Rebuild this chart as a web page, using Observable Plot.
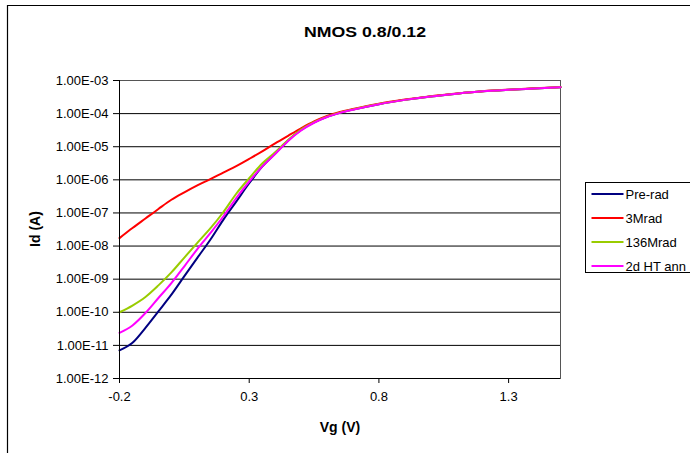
<!DOCTYPE html>
<html>
<head>
<meta charset="utf-8">
<script src="https://cdn.jsdelivr.net/npm/d3@7"></script>
<script src="https://cdn.jsdelivr.net/npm/@observablehq/plot@0.6"></script>
<style>
  html, body { margin: 0; padding: 0; background: #fff; }
  #chart { width: 690px; height: 453px; overflow: hidden; }
</style>
</head>
<body>
<div id="chart"></div>
<script>
// Gate voltage sweep (V)
const vg = [-0.2, -0.15, -0.1, -0.05, 0, 0.05, 0.1, 0.15, 0.2, 0.25, 0.3, 0.35, 0.4, 0.45, 0.5,
            0.55, 0.6, 0.65, 0.7, 0.8, 0.9, 1.0, 1.1, 1.2, 1.3, 1.4, 1.5];

// Drain current Id (A) for each condition
const preRad = [7.1e-12, 1.2e-11, 3.4e-11, 1.07e-10, 3.4e-10, 1.23e-9, 4.4e-9, 1.55e-8, 6.2e-8, 2.2e-7,
                7.9e-7, 2.5e-6, 6.2e-6, 1.55e-5, 3.2e-5, 5.4e-5, 8.0e-5, 1.06e-4, 1.32e-4, 1.93e-4,
                2.6e-4, 3.3e-4, 4.0e-4, 4.7e-4, 5.25e-4, 5.75e-4, 6.3e-4];
const mrad3 = [1.74e-8, 3.5e-8, 6.8e-8, 1.32e-7, 2.5e-7, 4.2e-7, 6.8e-7, 1.05e-6, 1.66e-6, 2.6e-6,
               4.3e-6, 7.2e-6, 1.26e-5, 2.14e-5, 3.6e-5, 5.8e-5, 8.5e-5, 1.12e-4, 1.38e-4, 2.0e-4,
               2.65e-4, 3.35e-4, 4.05e-4, 4.75e-4, 5.3e-4, 5.8e-4, 6.35e-4];
const mrad136 = [1.0e-10, 1.6e-10, 2.9e-10, 6.5e-10, 1.6e-9, 4.5e-9, 1.25e-8, 3.4e-8, 1.05e-7, 3.8e-7,
                 1.12e-6, 3.1e-6, 6.8e-6, 1.6e-5, 3.3e-5, 5.5e-5, 8.1e-5, 1.07e-4, 1.33e-4, 1.94e-4,
                 2.6e-4, 3.3e-4, 4.0e-4, 4.7e-4, 5.25e-4, 5.75e-4, 6.3e-4];
const anneal = [2.4e-11, 4.0e-11, 9.5e-11, 2.7e-10, 7.6e-10, 2.45e-9, 8.1e-9, 2.45e-8, 7.8e-8, 2.8e-7,
                8.9e-7, 2.5e-6, 6.0e-6, 1.5e-5, 3.1e-5, 5.3e-5, 7.9e-5, 1.05e-4, 1.31e-4, 1.93e-4,
                2.6e-4, 3.3e-4, 4.0e-4, 4.7e-4, 5.25e-4, 5.75e-4, 6.3e-4];

const seriesNames = ["Pre-rad", "3Mrad", "136Mrad", "2d HT ann"];
const seriesColors = ["#000080", "#FF0000", "#99CC00", "#FF00FF"];
const seriesValues = [preRad, mrad3, mrad136, anneal];

// Axis ticks
const xTicks = [-0.2, 0.3, 0.8, 1.3];
const yTicks = [1e-12, 1e-11, 1e-10, 1e-9, 1e-8, 1e-7, 1e-6, 1e-5, 1e-4, 1e-3];

const titleText = "NMOS 0.8/0.12";
const xLabel = "Vg (V)";
const yLabel = "Id (A)";

// Long table: one row per (series, point)
const rows = seriesNames.flatMap((name, i) =>
  vg.map((v, j) => ({series: name, vg: v, id: seriesValues[i][j]})));

const expFormat = d => {
  const e = Math.round(Math.log10(d));
  return "1.00E" + (e < 0 ? "-" : "+") + String(Math.abs(e)).padStart(2, "0");
};

const W = 690, H = 453;
const svg = Plot.plot({
  width: W,
  height: H,
  marginLeft: 119,
  marginRight: 130,
  marginTop: 80,
  marginBottom: 75,
  style: {fontFamily: "'Liberation Sans', Arial, sans-serif", fontSize: "13px", background: "#fff", color: "#000"},
  x: {domain: [-0.2, 1.5]},
  y: {type: "log", domain: [1e-12, 1e-3]},
  color: {domain: seriesNames, range: seriesColors},
  marks: [
    Plot.gridY(yTicks, {stroke: "#000", strokeOpacity: 1, strokeWidth: 1}),
    Plot.frame({stroke: "#555", strokeWidth: 1}),
    Plot.line(rows, {x: "vg", y: "id", z: "series", stroke: "series", strokeWidth: 2, curve: "monotone-x"}),
    Plot.ruleX([-0.2], {stroke: "#000"}),
    Plot.ruleY([1e-12], {stroke: "#000"}),
    Plot.axisY({ticks: yTicks, tickFormat: expFormat, tickSize: 6, tickPadding: 5, label: null, fontSize: 13}),
    Plot.axisX({ticks: xTicks, tickFormat: d => d.toFixed(1), tickSize: 5, tickPadding: 8, label: null, fontSize: 13})
  ]
});

const s = d3.select(svg);
const font = "'Liberation Sans', Arial, sans-serif";

// Chart area border (continues past the window on the right and bottom)
s.append("path")
  .attr("d", `M7.5,${H + 5} V5.5 H${W + 5}`)
  .attr("fill", "none")
  .attr("stroke", "#000")
  .attr("stroke-width", 1.2);

// Title
s.append("text")
  .attr("x", 365).attr("y", 37)
  .attr("text-anchor", "middle")
  .attr("font-family", font)
  .attr("font-weight", "bold")
  .attr("font-size", 15.5)
  .attr("textLength", 122)
  .attr("lengthAdjust", "spacingAndGlyphs")
  .text(titleText);

// Axis titles
s.append("text")
  .attr("x", 340).attr("y", 432)
  .attr("text-anchor", "middle")
  .attr("font-family", font)
  .attr("font-weight", "bold")
  .attr("font-size", 14)
  .text(xLabel);

s.append("text")
  .attr("transform", "translate(40,229) rotate(-90)")
  .attr("text-anchor", "middle")
  .attr("font-family", font)
  .attr("font-weight", "bold")
  .attr("font-size", 14)
  .text(yLabel);

// Legend
const lg = s.append("g").attr("transform", "translate(585.5,182.5)");
lg.append("rect")
  .attr("width", 140).attr("height", 90)
  .attr("fill", "#fff").attr("stroke", "#000").attr("stroke-width", 1);
seriesNames.forEach((name, i) => {
  const cy = 11.5 + i * 24;
  lg.append("line")
    .attr("x1", 6).attr("x2", 38).attr("y1", cy).attr("y2", cy)
    .attr("stroke", seriesColors[i]).attr("stroke-width", 2);
  lg.append("text")
    .attr("x", 40).attr("y", cy).attr("dy", "0.35em")
    .attr("text-anchor", "start")
    .attr("font-family", font).attr("font-size", 13)
    .text(name);
});

document.getElementById("chart").appendChild(svg);
</script>
</body>
</html>
